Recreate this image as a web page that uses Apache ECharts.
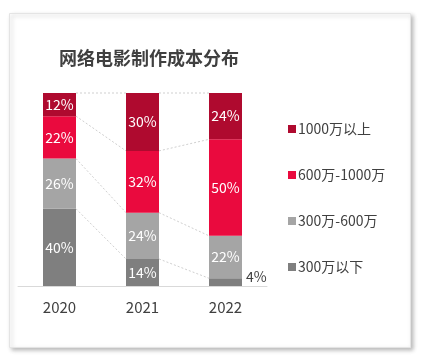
<!DOCTYPE html>
<html><head><meta charset="utf-8">
<script src="https://cdn.jsdelivr.net/npm/echarts@6/dist/echarts.min.js"></script>
<style>html,body{margin:0;padding:0;background:#fff}#c{width:422px;height:361px}</style>
</head><body><div id="c"></div>
<script>
const categories = ['2020', '2021', '2022'];
const seriesNames = ['300万以下', '300万-600万', '600万-1000万', '1000万以上'];
const below300 = [40, 14, 4];
const s300to600 = [26, 24, 22];
const s600to1000 = [22, 32, 50];
const above1000 = [12, 30, 24];
const colors = ['#7F7F7F', '#A5A5A5', '#EA0A3E', '#AF0A2F'];
const values = [below300, s300to600, s600to1000, above1000];
const BW = 33;
const font = '"Noto Sans CJK SC", "Microsoft YaHei", sans-serif';

const chart = echarts.init(document.getElementById('c'));

const barSeries = values.map((arr, k) => ({
  name: seriesNames[k],
  type: 'bar',
  stack: 'total',
  barWidth: BW,
  data: arr,
  itemStyle: { color: colors[k] },
  z: 3,
  label: {
    show: true,
    position: 'inside',
    fontFamily: font,
    fontSize: 14,
    color: '#fff',
    formatter: p => p.value + '%'
  }
}));
// small 4% label outside
barSeries[0].data = below300.map(v => v < 8 ? {
  value: v,
  label: { position: 'right', color: '#404040', offset: [-1, -5] }
} : v);

// connector lines
const connectorData = [];
for (let i = 0; i < categories.length - 1; i++) connectorData.push(i);
const connector = {
  type: 'custom',
  silent: true,
  z: 1,
  data: connectorData,
  renderItem: function (params, api) {
    const i = api.value(0);
    const children = [];
    let c1 = 0, c2 = 0;
    for (let k = 0; k < values.length; k++) {
      c1 += values[k][i];
      c2 += values[k][i + 1];
      const p1 = api.coord([i, c1]);
      const p2 = api.coord([i + 1, c2]);
      children.push({
        type: 'line',
        shape: { x1: p1[0] + BW / 2, y1: p1[1], x2: p2[0] - BW / 2, y2: p2[1] },
        style: { stroke: '#D0D0D0', lineWidth: 1, lineDash: [2, 2] }
      });
    }
    return { type: 'group', children };
  },
  encode: { x: 0 }
};

chart.setOption({
  backgroundColor: '#fff',
  animation: false,
  graphic: [{
    type: 'rect', left: 9, top: 13, z: -10,
    shape: { width: 401, height: 334 },
    style: { fill: '#fff', stroke: '#E4E4E4', lineWidth: 1,
      shadowColor: 'rgba(0,0,0,0.25)', shadowBlur: 4, shadowOffsetX: 2, shadowOffsetY: 2 }
  }],
  title: {
    text: '网络电影制作成本分布',
    left: 54, top: 44,
    textStyle: { fontFamily: font, fontSize: 18, fontWeight: 'bold', color: '#404040' }
  },
  legend: {
    orient: 'vertical',
    left: 283, top: 117,
    itemWidth: 8, itemHeight: 8, itemGap: 32,
    icon: 'rect',
    data: [seriesNames[3], seriesNames[2], seriesNames[1], seriesNames[0]],
    textStyle: { fontFamily: font, fontSize: 14, color: '#404040', padding: [0, 0, 0, -3] }
  },
  grid: { left: 18, right: 155, top: 93, bottom: 75 },
  xAxis: {
    type: 'category',
    data: categories,
    axisLine: { lineStyle: { color: '#D9D9D9' } },
    axisTick: { show: false },
    axisLabel: { fontFamily: font, fontSize: 15, color: '#404040', margin: 14 }
  },
  yAxis: {
    type: 'value', min: 0, max: 100, show: false
  },
  series: [connector, ...barSeries]
});
</script></body></html>
